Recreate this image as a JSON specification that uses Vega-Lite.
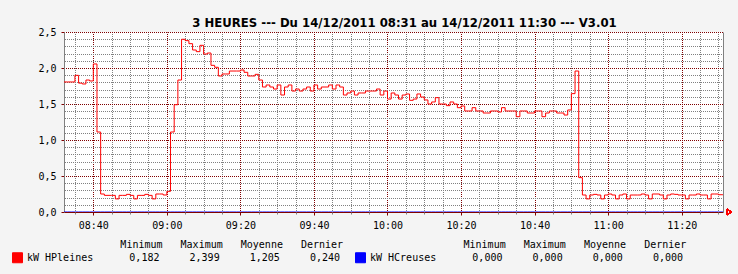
{
  "$schema": "https://vega.github.io/schema/vega-lite/v6.json",
  "width": 659,
  "height": 180,
  "autosize": "none",
  "padding": {"left": 64, "top": 32, "right": 15, "bottom": 62},
  "background": "#f4f4f4",
  "config": {
    "view": {"fill": "#ffffff", "stroke": null},
    "axis": {"title": null, "labelFont": "DejaVu Sans Mono", "labelFontSize": 10, "labelColor": "#000000", "gridOpacity": 1, "gridWidth": 1, "gridDash": [1, 1], "gridDashOffset": 0.5, "labelOverlap": false, "labelFlush": false}
  },
  "title": {
    "text": "3 HEURES --- Du 14/12/2011 08:31 au 14/12/2011 11:30 --- V3.01",
    "font": "DejaVu Sans", "fontSize": 11.7, "fontWeight": "bold", "color": "#000000",
    "anchor": "middle", "frame": "group", "dx": 11, "baseline": "alphabetic", "offset": 4, "dy": 16
  },
  "data": {"values": [
    {"t": "2011-12-14T08:31", "hp": 1.806, "hc": 0},
    {"t": "2011-12-14T08:32", "hp": 1.806, "hc": 0},
    {"t": "2011-12-14T08:33", "hp": 1.806, "hc": 0},
    {"t": "2011-12-14T08:34", "hp": 1.806, "hc": 0},
    {"t": "2011-12-14T08:35", "hp": 1.898, "hc": 0},
    {"t": "2011-12-14T08:36", "hp": 1.79, "hc": 0},
    {"t": "2011-12-14T08:37", "hp": 1.778, "hc": 0},
    {"t": "2011-12-14T08:38", "hp": 1.833, "hc": 0},
    {"t": "2011-12-14T08:39", "hp": 1.82, "hc": 0},
    {"t": "2011-12-14T08:40", "hp": 2.056, "hc": 0},
    {"t": "2011-12-14T08:41", "hp": 1.111, "hc": 0},
    {"t": "2011-12-14T08:42", "hp": 0.25, "hc": 0},
    {"t": "2011-12-14T08:43", "hp": 0.231, "hc": 0},
    {"t": "2011-12-14T08:44", "hp": 0.231, "hc": 0},
    {"t": "2011-12-14T08:45", "hp": 0.231, "hc": 0},
    {"t": "2011-12-14T08:46", "hp": 0.182, "hc": 0},
    {"t": "2011-12-14T08:47", "hp": 0.231, "hc": 0},
    {"t": "2011-12-14T08:48", "hp": 0.231, "hc": 0},
    {"t": "2011-12-14T08:49", "hp": 0.245, "hc": 0},
    {"t": "2011-12-14T08:50", "hp": 0.231, "hc": 0},
    {"t": "2011-12-14T08:51", "hp": 0.182, "hc": 0},
    {"t": "2011-12-14T08:52", "hp": 0.231, "hc": 0},
    {"t": "2011-12-14T08:53", "hp": 0.231, "hc": 0},
    {"t": "2011-12-14T08:54", "hp": 0.245, "hc": 0},
    {"t": "2011-12-14T08:55", "hp": 0.231, "hc": 0},
    {"t": "2011-12-14T08:56", "hp": 0.182, "hc": 0},
    {"t": "2011-12-14T08:57", "hp": 0.25, "hc": 0},
    {"t": "2011-12-14T08:58", "hp": 0.25, "hc": 0},
    {"t": "2011-12-14T08:59", "hp": 0.236, "hc": 0},
    {"t": "2011-12-14T09:00", "hp": 0.287, "hc": 0},
    {"t": "2011-12-14T09:01", "hp": 1.111, "hc": 0},
    {"t": "2011-12-14T09:02", "hp": 1.49, "hc": 0},
    {"t": "2011-12-14T09:03", "hp": 1.833, "hc": 0},
    {"t": "2011-12-14T09:04", "hp": 2.399, "hc": 0},
    {"t": "2011-12-14T09:05", "hp": 2.38, "hc": 0},
    {"t": "2011-12-14T09:06", "hp": 2.338, "hc": 0},
    {"t": "2011-12-14T09:07", "hp": 2.25, "hc": 0},
    {"t": "2011-12-14T09:08", "hp": 2.227, "hc": 0},
    {"t": "2011-12-14T09:09", "hp": 2.315, "hc": 0},
    {"t": "2011-12-14T09:10", "hp": 2.194, "hc": 0},
    {"t": "2011-12-14T09:11", "hp": 2.208, "hc": 0},
    {"t": "2011-12-14T09:12", "hp": 2.037, "hc": 0},
    {"t": "2011-12-14T09:13", "hp": 2.01, "hc": 0},
    {"t": "2011-12-14T09:14", "hp": 1.889, "hc": 0},
    {"t": "2011-12-14T09:15", "hp": 1.917, "hc": 0},
    {"t": "2011-12-14T09:16", "hp": 1.917, "hc": 0},
    {"t": "2011-12-14T09:17", "hp": 1.958, "hc": 0},
    {"t": "2011-12-14T09:18", "hp": 1.958, "hc": 0},
    {"t": "2011-12-14T09:19", "hp": 1.958, "hc": 0},
    {"t": "2011-12-14T09:20", "hp": 1.972, "hc": 0},
    {"t": "2011-12-14T09:21", "hp": 1.94, "hc": 0},
    {"t": "2011-12-14T09:22", "hp": 1.889, "hc": 0},
    {"t": "2011-12-14T09:23", "hp": 1.889, "hc": 0},
    {"t": "2011-12-14T09:24", "hp": 1.912, "hc": 0},
    {"t": "2011-12-14T09:25", "hp": 1.833, "hc": 0},
    {"t": "2011-12-14T09:26", "hp": 1.736, "hc": 0},
    {"t": "2011-12-14T09:27", "hp": 1.764, "hc": 0},
    {"t": "2011-12-14T09:28", "hp": 1.736, "hc": 0},
    {"t": "2011-12-14T09:29", "hp": 1.708, "hc": 0},
    {"t": "2011-12-14T09:30", "hp": 1.764, "hc": 0},
    {"t": "2011-12-14T09:31", "hp": 1.625, "hc": 0},
    {"t": "2011-12-14T09:32", "hp": 1.736, "hc": 0},
    {"t": "2011-12-14T09:33", "hp": 1.764, "hc": 0},
    {"t": "2011-12-14T09:34", "hp": 1.68, "hc": 0},
    {"t": "2011-12-14T09:35", "hp": 1.708, "hc": 0},
    {"t": "2011-12-14T09:36", "hp": 1.68, "hc": 0},
    {"t": "2011-12-14T09:37", "hp": 1.708, "hc": 0},
    {"t": "2011-12-14T09:38", "hp": 1.736, "hc": 0},
    {"t": "2011-12-14T09:39", "hp": 1.68, "hc": 0},
    {"t": "2011-12-14T09:40", "hp": 1.764, "hc": 0},
    {"t": "2011-12-14T09:41", "hp": 1.708, "hc": 0},
    {"t": "2011-12-14T09:42", "hp": 1.736, "hc": 0},
    {"t": "2011-12-14T09:43", "hp": 1.736, "hc": 0},
    {"t": "2011-12-14T09:44", "hp": 1.764, "hc": 0},
    {"t": "2011-12-14T09:45", "hp": 1.708, "hc": 0},
    {"t": "2011-12-14T09:46", "hp": 1.764, "hc": 0},
    {"t": "2011-12-14T09:47", "hp": 1.736, "hc": 0},
    {"t": "2011-12-14T09:48", "hp": 1.625, "hc": 0},
    {"t": "2011-12-14T09:49", "hp": 1.653, "hc": 0},
    {"t": "2011-12-14T09:50", "hp": 1.68, "hc": 0},
    {"t": "2011-12-14T09:51", "hp": 1.625, "hc": 0},
    {"t": "2011-12-14T09:52", "hp": 1.653, "hc": 0},
    {"t": "2011-12-14T09:53", "hp": 1.653, "hc": 0},
    {"t": "2011-12-14T09:54", "hp": 1.68, "hc": 0},
    {"t": "2011-12-14T09:55", "hp": 1.68, "hc": 0},
    {"t": "2011-12-14T09:56", "hp": 1.68, "hc": 0},
    {"t": "2011-12-14T09:57", "hp": 1.708, "hc": 0},
    {"t": "2011-12-14T09:58", "hp": 1.625, "hc": 0},
    {"t": "2011-12-14T09:59", "hp": 1.68, "hc": 0},
    {"t": "2011-12-14T10:00", "hp": 1.569, "hc": 0},
    {"t": "2011-12-14T10:01", "hp": 1.653, "hc": 0},
    {"t": "2011-12-14T10:02", "hp": 1.625, "hc": 0},
    {"t": "2011-12-14T10:03", "hp": 1.569, "hc": 0},
    {"t": "2011-12-14T10:04", "hp": 1.625, "hc": 0},
    {"t": "2011-12-14T10:05", "hp": 1.639, "hc": 0},
    {"t": "2011-12-14T10:06", "hp": 1.551, "hc": 0},
    {"t": "2011-12-14T10:07", "hp": 1.569, "hc": 0},
    {"t": "2011-12-14T10:08", "hp": 1.639, "hc": 0},
    {"t": "2011-12-14T10:09", "hp": 1.597, "hc": 0},
    {"t": "2011-12-14T10:10", "hp": 1.556, "hc": 0},
    {"t": "2011-12-14T10:11", "hp": 1.5, "hc": 0},
    {"t": "2011-12-14T10:12", "hp": 1.528, "hc": 0},
    {"t": "2011-12-14T10:13", "hp": 1.588, "hc": 0},
    {"t": "2011-12-14T10:14", "hp": 1.5, "hc": 0},
    {"t": "2011-12-14T10:15", "hp": 1.5, "hc": 0},
    {"t": "2011-12-14T10:16", "hp": 1.477, "hc": 0},
    {"t": "2011-12-14T10:17", "hp": 1.528, "hc": 0},
    {"t": "2011-12-14T10:18", "hp": 1.5, "hc": 0},
    {"t": "2011-12-14T10:19", "hp": 1.449, "hc": 0},
    {"t": "2011-12-14T10:20", "hp": 1.472, "hc": 0},
    {"t": "2011-12-14T10:21", "hp": 1.403, "hc": 0},
    {"t": "2011-12-14T10:22", "hp": 1.403, "hc": 0},
    {"t": "2011-12-14T10:23", "hp": 1.449, "hc": 0},
    {"t": "2011-12-14T10:24", "hp": 1.403, "hc": 0},
    {"t": "2011-12-14T10:25", "hp": 1.403, "hc": 0},
    {"t": "2011-12-14T10:26", "hp": 1.375, "hc": 0},
    {"t": "2011-12-14T10:27", "hp": 1.375, "hc": 0},
    {"t": "2011-12-14T10:28", "hp": 1.403, "hc": 0},
    {"t": "2011-12-14T10:29", "hp": 1.403, "hc": 0},
    {"t": "2011-12-14T10:30", "hp": 1.389, "hc": 0},
    {"t": "2011-12-14T10:31", "hp": 1.449, "hc": 0},
    {"t": "2011-12-14T10:32", "hp": 1.403, "hc": 0},
    {"t": "2011-12-14T10:33", "hp": 1.403, "hc": 0},
    {"t": "2011-12-14T10:34", "hp": 1.403, "hc": 0},
    {"t": "2011-12-14T10:35", "hp": 1.324, "hc": 0},
    {"t": "2011-12-14T10:36", "hp": 1.403, "hc": 0},
    {"t": "2011-12-14T10:37", "hp": 1.403, "hc": 0},
    {"t": "2011-12-14T10:38", "hp": 1.375, "hc": 0},
    {"t": "2011-12-14T10:39", "hp": 1.375, "hc": 0},
    {"t": "2011-12-14T10:40", "hp": 1.403, "hc": 0},
    {"t": "2011-12-14T10:41", "hp": 1.403, "hc": 0},
    {"t": "2011-12-14T10:42", "hp": 1.324, "hc": 0},
    {"t": "2011-12-14T10:43", "hp": 1.375, "hc": 0},
    {"t": "2011-12-14T10:44", "hp": 1.403, "hc": 0},
    {"t": "2011-12-14T10:45", "hp": 1.403, "hc": 0},
    {"t": "2011-12-14T10:46", "hp": 1.375, "hc": 0},
    {"t": "2011-12-14T10:47", "hp": 1.375, "hc": 0},
    {"t": "2011-12-14T10:48", "hp": 1.347, "hc": 0},
    {"t": "2011-12-14T10:49", "hp": 1.417, "hc": 0},
    {"t": "2011-12-14T10:50", "hp": 1.644, "hc": 0},
    {"t": "2011-12-14T10:51", "hp": 1.958, "hc": 0},
    {"t": "2011-12-14T10:52", "hp": 0.477, "hc": 0},
    {"t": "2011-12-14T10:53", "hp": 0.236, "hc": 0},
    {"t": "2011-12-14T10:54", "hp": 0.182, "hc": 0},
    {"t": "2011-12-14T10:55", "hp": 0.236, "hc": 0},
    {"t": "2011-12-14T10:56", "hp": 0.245, "hc": 0},
    {"t": "2011-12-14T10:57", "hp": 0.236, "hc": 0},
    {"t": "2011-12-14T10:58", "hp": 0.182, "hc": 0},
    {"t": "2011-12-14T10:59", "hp": 0.236, "hc": 0},
    {"t": "2011-12-14T11:00", "hp": 0.25, "hc": 0},
    {"t": "2011-12-14T11:01", "hp": 0.236, "hc": 0},
    {"t": "2011-12-14T11:02", "hp": 0.182, "hc": 0},
    {"t": "2011-12-14T11:03", "hp": 0.236, "hc": 0},
    {"t": "2011-12-14T11:04", "hp": 0.25, "hc": 0},
    {"t": "2011-12-14T11:05", "hp": 0.182, "hc": 0},
    {"t": "2011-12-14T11:06", "hp": 0.236, "hc": 0},
    {"t": "2011-12-14T11:07", "hp": 0.236, "hc": 0},
    {"t": "2011-12-14T11:08", "hp": 0.236, "hc": 0},
    {"t": "2011-12-14T11:09", "hp": 0.25, "hc": 0},
    {"t": "2011-12-14T11:10", "hp": 0.236, "hc": 0},
    {"t": "2011-12-14T11:11", "hp": 0.182, "hc": 0},
    {"t": "2011-12-14T11:12", "hp": 0.25, "hc": 0},
    {"t": "2011-12-14T11:13", "hp": 0.25, "hc": 0},
    {"t": "2011-12-14T11:14", "hp": 0.236, "hc": 0},
    {"t": "2011-12-14T11:15", "hp": 0.182, "hc": 0},
    {"t": "2011-12-14T11:16", "hp": 0.236, "hc": 0},
    {"t": "2011-12-14T11:17", "hp": 0.25, "hc": 0},
    {"t": "2011-12-14T11:18", "hp": 0.245, "hc": 0},
    {"t": "2011-12-14T11:19", "hp": 0.236, "hc": 0},
    {"t": "2011-12-14T11:20", "hp": 0.236, "hc": 0},
    {"t": "2011-12-14T11:21", "hp": 0.182, "hc": 0},
    {"t": "2011-12-14T11:22", "hp": 0.236, "hc": 0},
    {"t": "2011-12-14T11:23", "hp": 0.236, "hc": 0},
    {"t": "2011-12-14T11:24", "hp": 0.25, "hc": 0},
    {"t": "2011-12-14T11:25", "hp": 0.236, "hc": 0},
    {"t": "2011-12-14T11:26", "hp": 0.236, "hc": 0},
    {"t": "2011-12-14T11:27", "hp": 0.182, "hc": 0},
    {"t": "2011-12-14T11:28", "hp": 0.25, "hc": 0},
    {"t": "2011-12-14T11:29", "hp": 0.25, "hc": 0},
    {"t": "2011-12-14T11:30", "hp": 0.24, "hc": 0},
    {"t": "2011-12-14T11:31", "hp": 0.24, "hc": 0},
    {"t": "2011-12-14T11:32", "hp": 0.24, "hc": 0}
  ]},
  "layer": [
    {
      "mark": {"type": "line", "interpolate": "step-after", "clip": true, "strokeWidth": 1},
      "encoding": {
        "x": {
          "field": "t", "type": "temporal",
          "scale": {"domain": [
            {"year": 2011, "month": 12, "date": 14, "hours": 8, "minutes": 32, "seconds": 2},
            {"year": 2011, "month": 12, "date": 14, "hours": 11, "minutes": 31, "seconds": 14}
          ]},
          "axis": {
            "orient": "bottom",
            "values": [
              {"year": 2011, "month": 12, "date": 14, "hours": 8, "minutes": 40},
              {"year": 2011, "month": 12, "date": 14, "hours": 9, "minutes": 0},
              {"year": 2011, "month": 12, "date": 14, "hours": 9, "minutes": 20},
              {"year": 2011, "month": 12, "date": 14, "hours": 9, "minutes": 40},
              {"year": 2011, "month": 12, "date": 14, "hours": 10, "minutes": 0},
              {"year": 2011, "month": 12, "date": 14, "hours": 10, "minutes": 20},
              {"year": 2011, "month": 12, "date": 14, "hours": 10, "minutes": 40},
              {"year": 2011, "month": 12, "date": 14, "hours": 11, "minutes": 0},
              {"year": 2011, "month": 12, "date": 14, "hours": 11, "minutes": 20}
            ],
            "format": "%H:%M",
            "grid": true, "gridColor": "#800000",
            "ticks": true, "tickColor": "#800000", "tickSize": 3,
            "domain": true, "domainColor": "#800000",
            "labelPadding": 5
          }
        },
        "y": {
          "field": "hp", "type": "quantitative",
          "scale": {"domain": [0, 2.5], "nice": false, "zero": true},
          "axis": {
            "orient": "left",
            "values": [0, 0.5, 1, 1.5, 2, 2.5],
            "labelExpr": "replace(format(datum.value, '.1f'), '.', ',')",
            "grid": true, "gridColor": "#800000",
            "ticks": true, "tickColor": "#800000", "tickSize": 3,
            "domain": true, "domainColor": "#808080",
            "labelPadding": 5
          }
        },
        "color": {
          "datum": "kW HPleines", "type": "nominal",
          "scale": {"domain": ["kW HPleines", "kW HCreuses"], "range": ["#ff0000", "#0000ff"]},
          "legend": {
            "orient": "none", "legendX": -52, "legendY": 208, "direction": "horizontal", "padding": 0,
            "title": "\u200b\u00a0\u00a0\u00a0\u00a0\u00a0\u00a0\u00a0\u00a0\u00a0\u00a0\u00a0\u00a0\u00a0\u00a0\u00a0\u00a0\u00a0\u00a0Minimum\u00a0\u00a0\u00a0Maximum\u00a0\u00a0\u00a0Moyenne\u00a0\u00a0\u00a0Dernier\u00a0\u00a0\u00a0\u00a0\u00a0\u00a0\u00a0\u00a0\u00a0\u00a0\u00a0\u00a0\u00a0\u00a0\u00a0\u00a0\u00a0\u00a0\u00a0\u00a0Minimum\u00a0\u00a0\u00a0Maximum\u00a0\u00a0\u00a0Moyenne\u00a0\u00a0\u00a0Dernier",
            "titleFont": "DejaVu Sans Mono", "titleFontSize": 10, "titleFontWeight": "normal", "titleColor": "#000000",
            "titleLimit": 1000, "titlePadding": 2, "titleAnchor": "start", "titleAlign": "left",
            "labelFont": "DejaVu Sans Mono", "labelFontSize": 10, "labelColor": "#000000", "labelLimit": 1000, "labelOffset": 4,
            "labelExpr": "datum.label == 'kW HPleines' ? 'kW HPleines\u00a0\u00a0\u00a0\u00a0\u00a0\u00a00,182\u00a0\u00a0\u00a0\u00a0\u00a02,399\u00a0\u00a0\u00a0\u00a0\u00a01,205\u00a0\u00a0\u00a0\u00a0\u00a00,240' : 'kW HCreuses\u00a0\u00a0\u00a0\u00a0\u00a0\u00a00,000\u00a0\u00a0\u00a0\u00a0\u00a00,000\u00a0\u00a0\u00a0\u00a0\u00a00,000\u00a0\u00a0\u00a0\u00a0\u00a00,000'",
            "symbolType": "square", "symbolSize": 100, "symbolStrokeWidth": 1, "columnPadding": 12,
            "encode": {"symbols": {"update": {"fill": {"scale": "color", "field": "value"}, "stroke": {"value": "#000000"}, "strokeWidth": {"value": 1}, "opacity": {"value": 1}}}}
          }
        }
      }
    },
    {
      "mark": {"type": "line", "interpolate": "step-after", "clip": true, "strokeWidth": 1},
      "encoding": {
        "x": {
          "field": "t", "type": "temporal",
          "axis": {
            "orient": "bottom",
            "values": [
              {"year": 2011, "month": 12, "date": 14, "hours": 8, "minutes": 35},
              {"year": 2011, "month": 12, "date": 14, "hours": 8, "minutes": 45},
              {"year": 2011, "month": 12, "date": 14, "hours": 8, "minutes": 50},
              {"year": 2011, "month": 12, "date": 14, "hours": 8, "minutes": 55},
              {"year": 2011, "month": 12, "date": 14, "hours": 9, "minutes": 5},
              {"year": 2011, "month": 12, "date": 14, "hours": 9, "minutes": 10},
              {"year": 2011, "month": 12, "date": 14, "hours": 9, "minutes": 15},
              {"year": 2011, "month": 12, "date": 14, "hours": 9, "minutes": 25},
              {"year": 2011, "month": 12, "date": 14, "hours": 9, "minutes": 30},
              {"year": 2011, "month": 12, "date": 14, "hours": 9, "minutes": 35},
              {"year": 2011, "month": 12, "date": 14, "hours": 9, "minutes": 45},
              {"year": 2011, "month": 12, "date": 14, "hours": 9, "minutes": 50},
              {"year": 2011, "month": 12, "date": 14, "hours": 9, "minutes": 55},
              {"year": 2011, "month": 12, "date": 14, "hours": 10, "minutes": 5},
              {"year": 2011, "month": 12, "date": 14, "hours": 10, "minutes": 10},
              {"year": 2011, "month": 12, "date": 14, "hours": 10, "minutes": 15},
              {"year": 2011, "month": 12, "date": 14, "hours": 10, "minutes": 25},
              {"year": 2011, "month": 12, "date": 14, "hours": 10, "minutes": 30},
              {"year": 2011, "month": 12, "date": 14, "hours": 10, "minutes": 35},
              {"year": 2011, "month": 12, "date": 14, "hours": 10, "minutes": 45},
              {"year": 2011, "month": 12, "date": 14, "hours": 10, "minutes": 50},
              {"year": 2011, "month": 12, "date": 14, "hours": 10, "minutes": 55},
              {"year": 2011, "month": 12, "date": 14, "hours": 11, "minutes": 5},
              {"year": 2011, "month": 12, "date": 14, "hours": 11, "minutes": 10},
              {"year": 2011, "month": 12, "date": 14, "hours": 11, "minutes": 15},
              {"year": 2011, "month": 12, "date": 14, "hours": 11, "minutes": 25},
              {"year": 2011, "month": 12, "date": 14, "hours": 11, "minutes": 30}
            ],
            "labels": false, "domain": false,
            "grid": true, "gridColor": "#808080",
            "ticks": true, "tickColor": "#808080", "tickSize": 2
          }
        },
        "y": {
          "field": "hc", "type": "quantitative",
          "axis": {
            "orient": "right",
            "values": [0.1, 0.2, 0.3, 0.4, 0.6, 0.7, 0.8, 0.9, 1.1, 1.2, 1.3, 1.4, 1.6, 1.7, 1.8, 1.9, 2.1, 2.2, 2.3, 2.4],
            "labels": false, "ticks": false,
            "grid": true, "gridColor": "#808080",
            "domain": true, "domainColor": "#808080"
          }
        },
        "color": {"datum": "kW HCreuses", "type": "nominal"}
      }
    },
    {
      "mark": {"type": "point", "shape": "triangle-right", "filled": false, "color": "#ff0000", "size": 30, "strokeWidth": 1, "opacity": 1},
      "encoding": {
        "x": {"datum": {"year": 2011, "month": 12, "date": 14, "hours": 11, "minutes": 33}, "type": "temporal", "axis": null},
        "y": {"datum": 0, "type": "quantitative", "axis": null}
      }
    }
  ],
  "resolve": {"axis": {"x": "independent", "y": "independent"}}
}
